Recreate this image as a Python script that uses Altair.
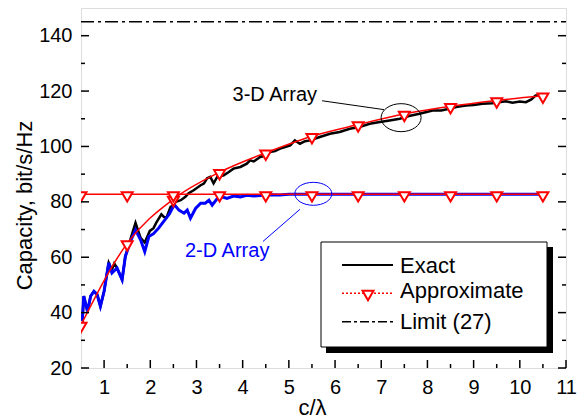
import altair as alt
import pandas as pd

FONT = "Liberation Sans"

# ---- 3-D array, exact (black) ----
ex3_x = [0.50, 0.53, 0.56, 0.64, 0.71, 0.78, 0.85, 0.92, 1.00, 1.10, 1.17, 1.22, 1.28, 1.39, 1.46,
         1.57, 1.68, 1.79, 1.88, 1.99, 2.07, 2.13, 2.24, 2.30, 2.35, 2.44, 2.49, 2.55, 2.66, 2.76,
         2.83, 2.94, 3.09, 3.16, 3.23, 3.30, 3.37, 3.45, 3.59, 3.70, 3.80, 3.95, 4.09, 4.16, 4.24,
         4.38, 4.52, 4.59, 4.70, 4.81, 4.92, 5.03, 5.13, 5.24, 5.35, 5.46, 5.67, 5.89, 6.10, 6.32,
         6.53, 6.75, 6.97, 7.18, 7.40, 7.60, 7.83, 8.11, 8.30, 8.47, 8.65, 8.83, 9.00, 9.19, 9.40,
         9.55, 9.70, 9.84, 10.00, 10.13, 10.25, 10.34, 10.50]
ex3_y = [38.0, 37.5, 46.0, 40.5, 46.0, 47.7, 46.5, 42.3, 47.7, 58.0, 55.5, 57.8, 56.1, 51.9, 60.3,
         66.5, 72.4, 67.0, 65.3, 69.5, 70.5, 72.5, 75.5, 74.5, 74.3, 78.2, 78.5, 80.0, 80.6, 81.8,
         83.1, 84.2, 86.0, 86.6, 88.5, 89.0, 86.7, 89.0, 89.6, 90.8, 92.0, 92.6, 93.8, 95.0, 94.6,
         96.2, 96.8, 98.0, 98.3, 99.2, 99.8, 100.4, 102.2, 101.0, 101.9, 102.2, 103.4, 104.6, 105.2, 106.4,
         107.0, 108.2, 108.8, 109.4, 110.0, 111.0, 111.8, 113.0, 113.0, 113.6, 114.3, 114.8, 115.0, 115.4, 115.6,
         116.0, 116.3, 115.8, 116.2, 116.0, 117.0, 118.4, 118.4]

# ---- 2-D array, exact (blue) ----
ex2_x = [0.50, 0.53, 0.56, 0.64, 0.71, 0.78, 0.85, 0.92, 1.00, 1.10, 1.17, 1.28, 1.39, 1.46, 1.57,
         1.68, 1.79, 1.88, 1.97, 2.07, 2.18, 2.27, 2.41, 2.52, 2.62, 2.73, 2.80, 2.87, 2.98, 3.09,
         3.19, 3.27, 3.34, 3.45, 3.55, 3.66, 3.80, 3.95, 4.09, 4.24, 4.45, 4.60, 4.80, 5.00, 6.00,
         7.00, 8.00, 9.00, 10.00, 10.50]
ex2_y = [38.0, 37.5, 46.0, 40.5, 46.0, 47.7, 46.5, 42.3, 47.7, 58.0, 54.3, 56.1, 51.9, 60.3, 65.7,
         69.9, 66.3, 62.0, 67.5, 68.5, 70.5, 72.5, 75.5, 79.0, 77.0, 75.9, 77.0, 74.1, 77.6, 79.5,
         79.5, 80.6, 78.8, 81.2, 81.8, 81.2, 82.1, 81.8, 82.4, 82.1, 82.4, 82.6, 82.5, 82.7, 82.7,
         82.7, 82.7, 82.7, 82.7, 82.7]

# ---- approximations (red, triangles) ----
half_x = [0.5, 1.5, 2.5, 3.5, 4.5, 5.5, 6.5, 7.5, 8.5, 9.5, 10.5]
ap3_y = [35.5, 65.0, 81.0, 90.7, 97.7, 103.7, 107.9, 111.7, 114.5, 116.6, 118.3]
ap2_y = [82.7, 82.7, 82.7, 82.7, 82.7, 82.7, 82.7, 82.7, 82.7, 82.7, 82.7]

# ---- limit (27) ----
limit_x = [0.5, 11.0]
limit_y = [145.0, 145.0]

# ---- ticks ----
x_major = [1, 2, 3, 4, 5, 6, 7, 8, 9, 10, 11]
x_minor = [1.5, 2.5, 3.5, 4.5, 5.5, 6.5, 7.5, 8.5, 9.5, 10.5]
y_major = [20, 40, 60, 80, 100, 120, 140]
y_minor = [30, 50, 70, 90, 110, 130]

# ---- annotations ----
lab3_x, lab3_y = 5.61, 116.3
lab2_x, lab2_y = 2.75, 60.0
lead3 = {"x1": [5.72], "y1": [116.5], "x2": [7.06], "y2": [113.3]}
lead2 = {"x1": [5.24], "y1": [77.3], "x2": [4.44], "y2": [65.7]}
ell3_x, ell3_y = 7.43, 110.4
ell2_x, ell2_y = 5.53, 82.9

W, H = 485, 360

xs = alt.Scale(domain=[0.5, 11], nice=False, zero=False)
ys = alt.Scale(domain=[20, 150], nice=False, zero=False)

xaxis = alt.Axis(values=x_major, ticks=False, domain=False, grid=False, labelFontSize=20,
                 labelPadding=9, labelFont=FONT, labelColor="black", labelFlush=False,
                 labelOverlap=False, title="c/λ", titleFont=FONT, titleFontSize=22,
                 titleFontWeight="normal", titleColor="black", titleX=231, titleY=46,
                 titleBaseline="alphabetic")
yaxis = alt.Axis(values=y_major, ticks=False, domain=False, grid=False, labelFontSize=20,
                 labelPadding=9, labelFont=FONT, labelColor="black", labelFlush=False,
                 labelOverlap=False, title="Capacity, bit/s/Hz", titleFont=FONT, titleFontSize=22,
                 titleFontWeight="normal", titleColor="black", titleX=-50, titleY=197,
                 titleBaseline="alphabetic")


def X(f):
    return alt.X(f, type="quantitative", scale=xs, axis=xaxis)


def Y(f):
    return alt.Y(f, type="quantitative", scale=ys, axis=yaxis)


def df(x, y):
    return pd.DataFrame({"x": x, "y": y})


one = pd.DataFrame({"k": [0]})

black = alt.Chart(df(ex3_x, ex3_y)).mark_line(color="black", strokeWidth=2.5, clip=True).encode(x=X("x"), y=Y("y"))
blue = alt.Chart(df(ex2_x, ex2_y)).mark_line(color="#0000ff", strokeWidth=3, clip=True).encode(x=X("x"), y=Y("y"))
red3 = alt.Chart(df(half_x, ap3_y)).mark_line(color="#ff0000", strokeWidth=1.5, interpolate="monotone", clip=True).encode(x=X("x"), y=Y("y"))
red2 = alt.Chart(df(half_x, ap2_y)).mark_line(color="#ff0000", strokeWidth=1.5, clip=True).encode(x=X("x"), y=Y("y"))
tri3 = alt.Chart(df(half_x, ap3_y)).mark_point(shape="triangle-down", size=120, fill="white", filled=True,
                                                stroke="#ff0000", strokeWidth=2, opacity=1, yOffset=2.5, clip=True).encode(x=X("x"), y=Y("y"))
tri2 = alt.Chart(df(half_x, ap2_y)).mark_point(shape="triangle-down", size=120, fill="white", filled=True,
                                                stroke="#ff0000", strokeWidth=2, opacity=1, yOffset=2.5, clip=True).encode(x=X("x"), y=Y("y"))
limit = alt.Chart(df(limit_x, limit_y)).mark_line(color="black", strokeWidth=1.5, strokeDash=[13, 4, 3, 4], clip=True).encode(x=X("x"), y=Y("y"))

# ticks (inward)
xt_maj = alt.Chart(pd.DataFrame({"v": x_major})).mark_rule(color="black", strokeWidth=1.5).encode(x=X("v"), y=alt.value(H), y2=alt.value(H - 8))
xt_min = alt.Chart(pd.DataFrame({"v": x_minor})).mark_rule(color="black", strokeWidth=1.5).encode(x=X("v"), y=alt.value(H), y2=alt.value(H - 4))
yt_maj_l = alt.Chart(pd.DataFrame({"v": y_major})).mark_rule(color="black", strokeWidth=1.5).encode(y=Y("v"), x=alt.value(0), x2=alt.value(8))
yt_min_l = alt.Chart(pd.DataFrame({"v": y_minor})).mark_rule(color="black", strokeWidth=1.5).encode(y=Y("v"), x=alt.value(0), x2=alt.value(4))
yt_maj_r = alt.Chart(pd.DataFrame({"v": y_major})).mark_rule(color="black", strokeWidth=1.5).encode(y=Y("v"), x=alt.value(W), x2=alt.value(W - 8))
yt_min_r = alt.Chart(pd.DataFrame({"v": y_minor})).mark_rule(color="black", strokeWidth=1.5).encode(y=Y("v"), x=alt.value(W), x2=alt.value(W - 4))

# annotations
t3 = alt.Chart(df([lab3_x], [lab3_y])).mark_text(text="3-D Array", align="right", baseline="alphabetic",
                                                font=FONT, fontSize=20, color="black").encode(x=X("x"), y=Y("y"))
t2 = alt.Chart(df([lab2_x], [lab2_y])).mark_text(text="2-D Array", align="left", baseline="alphabetic",
                                                font=FONT, fontSize=20, color="#0000ff").encode(x=X("x"), y=Y("y"))
l3 = alt.Chart(pd.DataFrame(lead3)).mark_rule(color="black", strokeWidth=1).encode(
    x=X("x1"), y=Y("y1"), x2="x2", y2="y2")
l2 = alt.Chart(pd.DataFrame(lead2)).mark_rule(color="#0000ff", strokeWidth=1).encode(
    x=X("x1"), y=Y("y1"), x2="x2", y2="y2")
e3 = alt.Chart(df([ell3_x], [ell3_y])).mark_point(shape="M-1,0A1,0.7 0 1,0 1,0A1,0.7 0 1,0 -1,0",
                                                  size=1600, filled=False, stroke="black", strokeWidth=1, opacity=1).encode(x=X("x"), y=Y("y"))
e2 = alt.Chart(df([ell2_x], [ell2_y])).mark_point(shape="M-1,0A1,0.62 0 1,0 1,0A1,0.62 0 1,0 -1,0",
                                                  size=1369, filled=False, stroke="#0000ff", strokeWidth=1, opacity=1).encode(x=X("x"), y=Y("y"))

# legend (drawn by hand)
shadow = alt.Chart(one).mark_rect(fill="black").encode(x=alt.value(245), x2=alt.value(472), y=alt.value(239), y2=alt.value(345))
box = alt.Chart(one).mark_rect(fill="white", stroke="black", strokeWidth=1).encode(x=alt.value(240), x2=alt.value(466), y=alt.value(234), y2=alt.value(339))
lg1 = alt.Chart(one).mark_rule(color="black", strokeWidth=2).encode(x=alt.value(261), x2=alt.value(312), y=alt.value(257))
lg2 = alt.Chart(one).mark_rule(color="#ff0000", strokeWidth=1.5, strokeDash=[2, 2]).encode(x=alt.value(261), x2=alt.value(312), y=alt.value(285.3))
lg2t = alt.Chart(one).mark_point(shape="triangle-down", size=120, fill="white", filled=True, stroke="#ff0000",
                                 strokeWidth=2, opacity=1).encode(x=alt.value(287), y=alt.value(287.5))
lg3 = alt.Chart(one).mark_rule(color="black", strokeWidth=1.5, strokeDash=[9, 3, 3, 3]).encode(x=alt.value(261), x2=alt.value(312), y=alt.value(313.7))
lt1 = alt.Chart(one).mark_text(text="Exact", align="left", baseline="alphabetic", font=FONT, fontSize=22, color="black").encode(x=alt.value(319), y=alt.value(265.3))
lt2 = alt.Chart(one).mark_text(text="Approximate", align="left", baseline="alphabetic", font=FONT, fontSize=22, color="black").encode(x=alt.value(319), y=alt.value(290.3))
lt3 = alt.Chart(one).mark_text(text="Limit (27)", align="left", baseline="alphabetic", font=FONT, fontSize=22, color="black").encode(x=alt.value(319), y=alt.value(321.3))

chart = alt.layer(
    black, blue, red3, red2, tri3, tri2, limit,
    xt_maj, xt_min, yt_maj_l, yt_min_l, yt_maj_r, yt_min_r,
    t3, t2, l3, l2, e3, e2,
    shadow, box, lg1, lg2, lg2t, lg3, lt1, lt2, lt3,
).properties(
    width=W, height=H,
    autosize=alt.AutoSizeParams(type="none"),
    padding={"left": 73, "top": 0, "right": 13, "bottom": 52},
    background="white",
).configure_view(stroke="black", strokeWidth=2).configure(font=FONT)

chart.save("out.html", embed_options={"renderer": "svg", "actions": False})
